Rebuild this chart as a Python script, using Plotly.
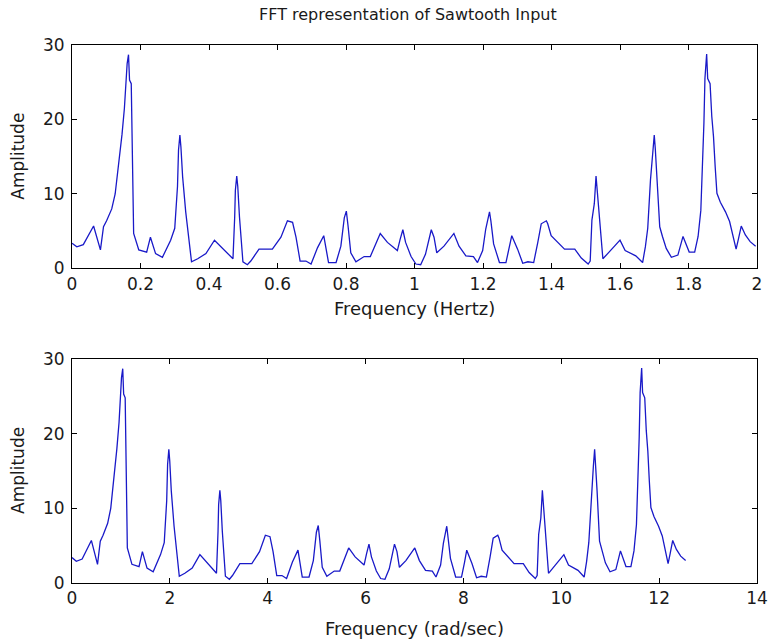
import numpy as np
import plotly.graph_objects as go

# ---- data (vertex positions of the FFT magnitude curve) ----
freq_hz = [
    0.000, 0.014, 0.033, 0.063, 0.083, 0.092, 0.101, 0.116, 0.126, 0.137, 0.146, 0.153,
    0.158, 0.161, 0.165, 0.168, 0.173, 0.177, 0.180, 0.195, 0.218, 0.229, 0.244, 0.264,
    0.288, 0.300, 0.308, 0.311, 0.315, 0.318, 0.323, 0.332, 0.339, 0.349, 0.367, 0.391,
    0.416, 0.445, 0.470, 0.475, 0.477, 0.481, 0.484, 0.489, 0.499, 0.512, 0.522, 0.546,
    0.585, 0.610, 0.629, 0.644, 0.654, 0.666, 0.683, 0.698, 0.717, 0.735, 0.749, 0.771,
    0.785, 0.795, 0.801, 0.806, 0.814, 0.829, 0.853, 0.871, 0.900, 0.921, 0.950, 0.958,
    0.966, 0.974, 0.990, 1.004, 1.018, 1.032, 1.042, 1.049, 1.057, 1.065, 1.086, 1.115,
    1.130, 1.150, 1.172, 1.184, 1.199, 1.208, 1.219, 1.223, 1.231, 1.248, 1.267, 1.277,
    1.284, 1.301, 1.316, 1.331, 1.348, 1.360, 1.370, 1.385, 1.389, 1.399, 1.419, 1.438,
    1.468, 1.487, 1.507, 1.513, 1.518, 1.525, 1.530, 1.533, 1.538, 1.543, 1.550, 1.568,
    1.600, 1.615, 1.646, 1.666, 1.674, 1.681, 1.689, 1.696, 1.700, 1.703, 1.708, 1.716,
    1.724, 1.735, 1.750, 1.769, 1.784, 1.791, 1.802, 1.818, 1.828, 1.836, 1.841, 1.845,
    1.848, 1.853, 1.856, 1.863, 1.868, 1.873, 1.878, 1.883, 1.893, 1.908, 1.920, 1.932,
    1.939, 1.946, 1.954, 1.966, 1.980, 1.996,
]
amplitude = [
    3.4, 2.9, 3.2, 5.7, 2.5, 5.6, 6.4, 8.0, 10.0, 14.2, 18.0, 21.5,
    25.3, 27.5, 28.7, 25.3, 24.8, 9.0, 4.7, 2.5, 2.2, 4.2, 2.0, 1.5,
    3.8, 5.4, 11.0, 15.9, 17.9, 16.3, 12.3, 7.6, 5.1, 0.9, 1.3, 2.0,
    3.8, 2.5, 1.3, 6.9, 10.5, 12.4, 11.0, 6.9, 0.9, 0.5, 1.0, 2.6,
    2.6, 4.2, 6.4, 6.2, 4.2, 1.0, 1.0, 0.6, 2.8, 4.4, 0.8, 0.8,
    3.0, 6.8, 7.7, 5.7, 2.1, 0.9, 1.6, 1.6, 4.7, 3.5, 2.4, 3.9,
    5.2, 3.5, 1.6, 0.6, 0.5, 1.9, 3.7, 5.2, 4.2, 2.1, 3.0, 4.7,
    3.0, 1.7, 1.6, 0.8, 2.4, 5.3, 7.6, 6.4, 3.3, 0.8, 0.8, 2.8,
    4.4, 2.6, 0.7, 0.9, 0.8, 3.5, 6.0, 6.4, 6.0, 4.4, 3.5, 2.6,
    2.6, 1.4, 0.6, 1.0, 6.5, 8.7, 12.4, 10.7, 8.3, 5.4, 1.3, 2.2,
    3.8, 2.4, 1.7, 0.8, 2.9, 5.4, 11.9, 15.7, 17.9, 16.1, 12.3, 5.6,
    4.3, 2.7, 1.5, 1.8, 4.3, 3.4, 2.2, 2.2, 4.3, 7.8, 13.6, 19.5,
    25.5, 28.8, 25.5, 24.8, 20.4, 17.7, 13.6, 10.1, 8.9, 7.6, 6.3, 3.8,
    2.6, 4.0, 5.7, 4.5, 3.6, 3.0,
]

title_text = "FFT representation of Sawtooth Input"
xlabel_top = "Frequency (Hertz)"
xlabel_bottom = "Frequency (rad/sec)"
ylabel = "Amplitude"

hz_ticks = [0, 0.2, 0.4, 0.6, 0.8, 1, 1.2, 1.4, 1.6, 1.8, 2]
hz_ticktext = ["0", "0.2", "0.4", "0.6", "0.8", "1", "1.2", "1.4", "1.6", "1.8", "2"]
rad_ticks = [0, 2, 4, 6, 8, 10, 12, 14]
amp_ticks = [0, 10, 20, 30]

freq_rad = 2 * np.pi * np.array(freq_hz)

LINE = "rgb(25,25,200)"
FONT = "DejaVu Sans"
TXT = "#1a1a1a"

fig = go.Figure()
fig.add_trace(go.Scatter(x=freq_hz, y=amplitude, mode="lines",
                         line=dict(color=LINE, width=1.3), xaxis="x", yaxis="y",
                         showlegend=False, hoverinfo="skip"))
fig.add_trace(go.Scatter(x=freq_rad, y=amplitude, mode="lines",
                         line=dict(color=LINE, width=1.3), xaxis="x2", yaxis="y2",
                         showlegend=False, hoverinfo="skip"))

axis_common = dict(showline=True, linecolor="black", linewidth=1, mirror="ticks",
                   ticks="inside", ticklen=5, tickcolor="black", showgrid=False,
                   zeroline=False, automargin=False,
                   tickfont=dict(family=FONT, size=17, color=TXT))

top_dom = [0.5846, 1.0]
bot_dom = [0.0, 0.4164]

fig.update_layout(
    width=769, height=642, autosize=False,
    margin=dict(l=72, r=12, t=45, b=59),
    paper_bgcolor="white", plot_bgcolor="white",
    xaxis=dict(domain=[0, 1], anchor="y", range=[0, 2], tickvals=hz_ticks,
               ticktext=hz_ticktext, **axis_common),
    yaxis=dict(domain=top_dom, anchor="x", range=[0, 30], tickvals=amp_ticks,
               ticklabelstandoff=3, **axis_common),
    xaxis2=dict(domain=[0, 1], anchor="y2", range=[0, 14], tickvals=rad_ticks,
                **axis_common),
    yaxis2=dict(domain=bot_dom, anchor="x2", range=[0, 30], tickvals=amp_ticks,
                ticklabelstandoff=3, **axis_common),
    showlegend=False,
)

annots = [
    dict(text=title_text, xref="paper", yref="paper", x=0.5, xshift=-7, y=1, yshift=31,
         showarrow=False, font=dict(family=FONT, size=16, color=TXT),
         xanchor="center", yanchor="middle"),
    dict(text=xlabel_top, xref="paper", yref="paper", x=0.5, y=top_dom[0], yshift=-40,
         showarrow=False, font=dict(family=FONT, size=18, color=TXT),
         xanchor="center", yanchor="middle"),
    dict(text=xlabel_bottom, xref="paper", yref="paper", x=0.5, y=bot_dom[0], yshift=-45,
         showarrow=False, font=dict(family=FONT, size=18, color=TXT),
         xanchor="center", yanchor="middle"),
    dict(text=ylabel, xref="paper", yref="paper", x=0, xshift=-54,
         y=(top_dom[0] + top_dom[1]) / 2, textangle=-90,
         showarrow=False, font=dict(family=FONT, size=17, color=TXT),
         xanchor="center", yanchor="middle"),
    dict(text=ylabel, xref="paper", yref="paper", x=0, xshift=-54,
         y=(bot_dom[0] + bot_dom[1]) / 2, textangle=-90,
         showarrow=False, font=dict(family=FONT, size=17, color=TXT),
         xanchor="center", yanchor="middle"),
]
fig.update_layout(annotations=annots)

fig.write_html("out.html", config={"responsive": False})
